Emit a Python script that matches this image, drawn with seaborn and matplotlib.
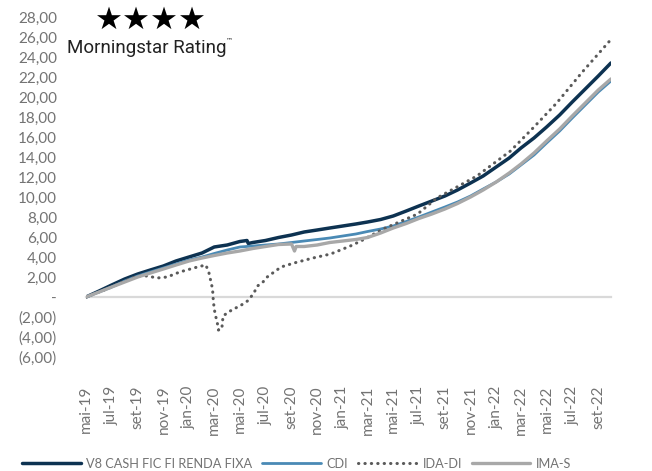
import seaborn as sns
import matplotlib.pyplot as plt
import matplotlib.ticker as mticker
import pandas as pd

# Data: cumulative returns (%)
months = pd.date_range('2019-05-01', '2022-10-01', freq='MS')

v8 = [0.0, 0.6, 1.2, 1.8, 2.3, 2.7, 3.1, 3.6, 4.0, 4.4,
      5.0, 5.2, 5.55, 5.45, 5.65, 5.95, 6.2, 6.5, 6.7, 6.9,
      7.1, 7.3, 7.5, 7.75, 8.1, 8.6, 9.1, 9.6, 10.1, 10.7,
      11.4, 12.1, 13.0, 13.9, 14.9, 15.9, 17.0, 18.2, 19.5, 20.8,
      22.1, 23.4]
v8_extra_dates = ['2020-05-18', '2020-05-21']
v8_extra = [5.65, 5.35]

cdi = [0.0, 0.5, 1.0, 1.6, 2.1, 2.5, 2.9, 3.3, 3.7, 4.0,
       4.35, 4.7, 5.0, 5.1, 5.2, 5.3, 5.45, 5.6, 5.75, 5.9,
       6.1, 6.3, 6.55, 6.8, 7.1, 7.55, 8.0, 8.5, 9.0, 9.5,
       10.1, 10.8, 11.5, 12.3, 13.2, 14.2, 15.4, 16.6, 17.9, 19.2,
       20.5, 21.6]

imas = [0.0, 0.5, 1.0, 1.5, 2.0, 2.4, 2.8, 3.2, 3.6, 3.9,
        4.15, 4.4, 4.6, 4.85, 5.05, 5.25, 5.3, 5.05, 5.2, 5.45,
        5.6, 5.75, 5.95, 6.4, 6.9, 7.35, 7.85, 8.3, 8.8, 9.35,
        10.0, 10.7, 11.5, 12.4, 13.3, 14.4, 15.6, 16.8, 18.1, 19.4,
        20.7, 21.8]
imas_extra_dates = ['2020-09-08', '2020-09-12']
imas_extra = [4.6, 5.05]

ida_dates = ['2019-05-01', '2019-06-01', '2019-07-01', '2019-08-01', '2019-09-01',
             '2019-09-24', '2019-10-17', '2019-11-10', '2019-12-10', '2020-01-21',
             '2020-02-10', '2020-02-17', '2020-02-26', '2020-02-28', '2020-03-03',
             '2020-03-08', '2020-03-11', '2020-03-19', '2020-03-22', '2020-04-04',
             '2020-04-16', '2020-05-01', '2020-05-19', '2020-06-02', '2020-06-12',
             '2020-06-25', '2020-07-05', '2020-08-07', '2020-09-07', '2020-10-22',
             '2020-12-03', '2021-01-19', '2021-02-13', '2021-04-07', '2021-06-28',
             '2021-08-13', '2021-11-16', '2022-02-04', '2022-04-01', '2022-05-25',
             '2022-07-25', '2022-09-28']
ida = [0.0, 0.5, 1.0, 1.6, 2.1,
       2.1, 1.9, 2.0, 2.5, 3.0,
       3.2, 2.5, 0.8, -0.5, -1.7,
       -2.5, -3.3, -3.2, -1.9, -1.5,
       -1.2, -0.9, -0.4, 0.3, 1.1,
       1.5, 2.0, 3.0, 3.4, 3.9,
       4.3, 5.1, 5.6, 6.8, 8.3,
       9.9, 12.1, 14.6, 17.0, 19.4,
       22.5, 25.6]

labels = ['V8 CASH FIC FI RENDA FIXA', 'CDI', 'IDA-DI', 'IMA-S']
colors = ['#0d3251', '#4a8ab5', '#5a5a5a', '#a8a8a8']
pt_months = {1: 'jan', 3: 'mar', 5: 'mai', 7: 'jul', 9: 'set', 11: 'nov'}
DOTS = (0, (0.1, 2.0))


def frame(dates, values):
    return pd.DataFrame({'date': pd.to_datetime(dates), 'value': values}).sort_values('date')


df_v8 = frame(list(months) + v8_extra_dates, v8 + v8_extra)
df_cdi = frame(months, cdi)
df_ida = frame(ida_dates, ida)
df_imas = frame(list(months) + imas_extra_dates, imas + imas_extra)

sns.set_style('white')
plt.rcParams['font.family'] = ['Lato', 'DejaVu Sans']
txt_color = '#737373'

fig = plt.figure(figsize=(6.52, 4.71), dpi=100)
ax = fig.add_axes([0.132, 0.242, 0.805, 0.722])

sns.lineplot(data=df_v8, x='date', y='value', color=colors[0], lw=2.5, ax=ax, label=labels[0])
sns.lineplot(data=df_cdi, x='date', y='value', color=colors[1], lw=2.0, ax=ax, label=labels[1])
sns.lineplot(data=df_ida, x='date', y='value', color=colors[2], lw=2.2, ax=ax, label=labels[2])
ax.lines[-1].set_linestyle(DOTS)
ax.lines[-1].set_dash_capstyle('round')
sns.lineplot(data=df_imas, x='date', y='value', color=colors[3], lw=2.4, ax=ax, label=labels[3])

ax.set_xlim(pd.Timestamp('2019-05-01'), pd.Timestamp('2022-10-01'))
ax.set_ylim(-6, 28)
ax.set_xlabel('')
ax.set_ylabel('')


def br_fmt(v, pos):
    if abs(v) < 1e-9:
        return '-'
    s = f'{abs(v):.2f}'.replace('.', ',')
    return f'({s})' if v < 0 else s


ax.yaxis.set_major_locator(mticker.MultipleLocator(2))
ax.yaxis.set_major_formatter(mticker.FuncFormatter(br_fmt))
ax.tick_params(axis='y', length=0, pad=21, labelsize=11, labelcolor=txt_color)

for s in ['top', 'right', 'left']:
    ax.spines[s].set_visible(False)
ax.spines['bottom'].set_position(('data', 0))
ax.spines['bottom'].set_color('#d9d9d9')
ax.spines['bottom'].set_linewidth(1.6)
ax.spines['bottom'].set_zorder(0.5)

tick_dates = pd.date_range('2019-05-01', '2022-09-01', freq='2MS')
ax.set_xticks(tick_dates)
ax.tick_params(axis='x', length=5, width=1.3, color='#d9d9d9', labelbottom=False, direction='out')
for d in tick_dates:
    ax.text(d, -0.084, f'{pt_months[d.month]}-{d.year % 100:02d}', transform=ax.get_xaxis_transform(),
            rotation=90, ha='center', va='top', fontsize=11, color=txt_color)

handles, hl = ax.get_legend_handles_labels()
ax.get_legend().remove()
leg = fig.legend(handles, hl, loc='lower center', bbox_to_anchor=(0.455, -0.022), ncol=4, frameon=False,
                 handlelength=4.6, handletextpad=0.45, columnspacing=0.75, fontsize=9.2, labelcolor=txt_color)
for line in leg.get_lines():
    if line.get_label() == 'IDA-DI':
        line.set_linestyle(DOTS)
        line.set_dash_capstyle('round')

# Morningstar rating badge
fig.text(0.232, 0.957, '\u2605\u2605\u2605\u2605', fontsize=22.5, ha='center', va='center',
         family='DejaVu Sans', color='black')
fig.text(0.103, 0.898, 'Morningstar Rating', fontsize=13.5, ha='left', va='center',
         family=['Roboto', 'DejaVu Sans'], color='#222222')
fig.text(0.347, 0.915, '\u2122', fontsize=5, ha='left', va='center', family='DejaVu Sans',
         color='#222222')

plt.savefig('out.png', dpi=100)
